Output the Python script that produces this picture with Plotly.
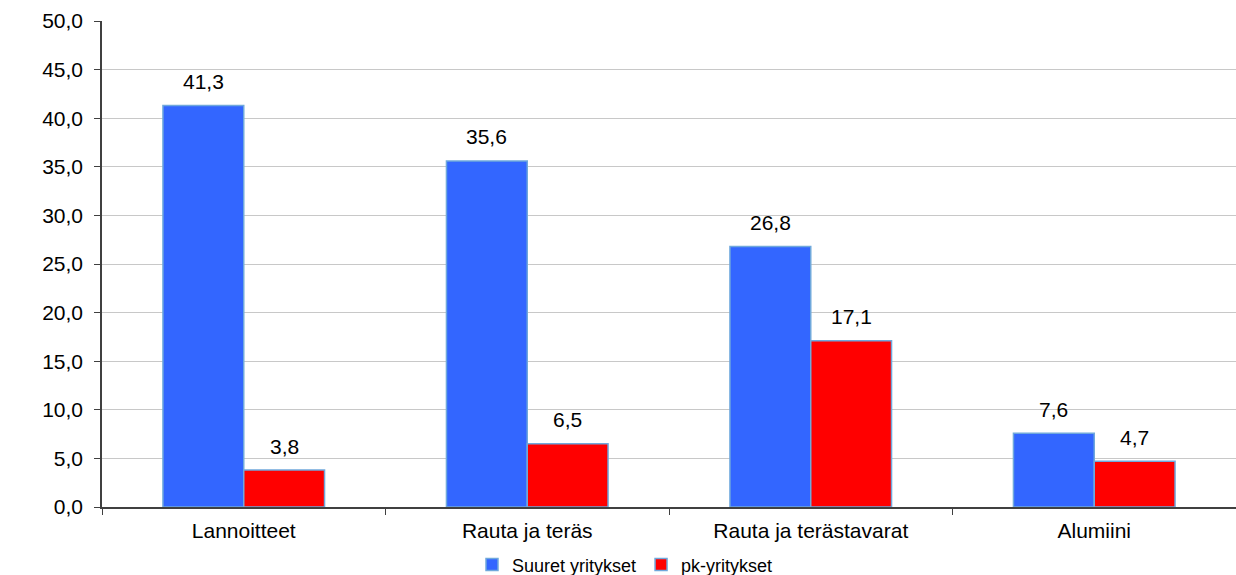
import plotly.graph_objects as go

categories = ["Lannoitteet", "Rauta ja teräs", "Rauta ja terästavarat", "Alumiini"]
suuret = [41.3, 35.6, 26.8, 7.6]
pk = [3.8, 6.5, 17.1, 4.7]
series_names = ["Suuret yritykset", "pk-yritykset"]
y_ticks = [0, 5, 10, 15, 20, 25, 30, 35, 40, 45, 50]

FONT = "Liberation Sans, Arial, sans-serif"
colors = ["#3366ff", "#ff0000"]
outline = "#6fa8dc"

fig = go.Figure()
for name, vals, col in zip(series_names, [suuret, pk], colors):
    fig.add_trace(go.Bar(
        x=categories, y=vals, name=name,
        marker=dict(color=col, line=dict(color=outline, width=1.5)),
    ))

bargap = 0.43
plot_w = 1236 - 102
half = plot_w / len(categories) * (1 - bargap) / 4
for vals, shift in [(suuret, -half), (pk, half)]:
    for c, v in zip(categories, vals):
        fig.add_annotation(
            x=c, y=v, xref="x", yref="y", text=f"{v:.1f}".replace(".", ","),
            showarrow=False, xshift=shift, yshift=24, yanchor="middle",
            font=dict(family=FONT, size=21, color="#000000"),
        )

fig.update_layout(
    width=1236, height=575,
    margin=dict(l=102, r=0, t=21, b=68, autoexpand=False),
    barmode="group", bargap=bargap, bargroupgap=0,
    paper_bgcolor="white", plot_bgcolor="white",
    separators=", ",
    font=dict(family=FONT, size=21, color="#000000"),
    showlegend=True,
    legend=dict(
        orientation="h", xref="paper", yref="paper",
        x=(625 - 102) / 1134, xanchor="center", y=-0.119, yanchor="middle",
        font=dict(family=FONT, size=18), itemwidth=30,
        tracegroupgap=0, bgcolor="rgba(0,0,0,0)",
    ),
    xaxis=dict(
        tickson="boundaries", ticks="outside", ticklen=6, tickcolor="#404040",
        showline=True, linecolor="#404040", linewidth=1.5,
        tickfont=dict(family=FONT, size=21), showgrid=False,
        ticklabelstandoff=4, automargin=False,
    ),
    yaxis=dict(
        range=[0, 50], tickvals=y_ticks, tickformat=".1f",
        ticks="outside", ticklen=6, tickcolor="#404040",
        showline=True, linecolor="#404040", linewidth=1.5,
        showgrid=True, gridcolor="#c8c8c8", gridwidth=1,
        zeroline=False, tickfont=dict(family=FONT, size=21),
        ticklabelstandoff=7, automargin=False,
    ),
)

fig.write_html(
    "out.html",
    config={"displayModeBar": False},
    post_script="document.body.style.margin='0';document.body.style.overflow='hidden';",
)
